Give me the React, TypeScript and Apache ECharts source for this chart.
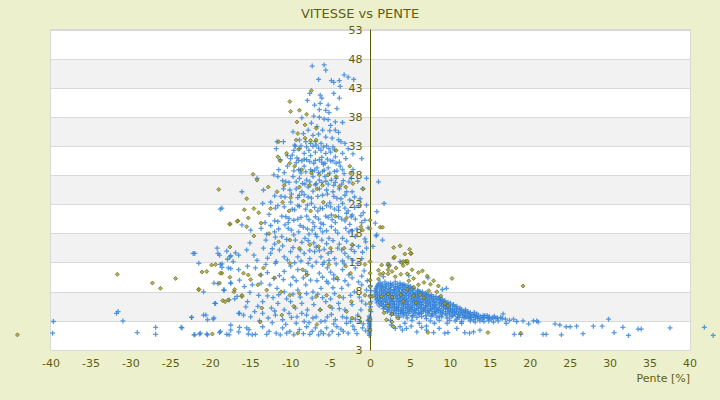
import React, { useEffect, useRef } from "react";
import * as echarts from "echarts";

type P = [number, number];

const titleText = "VITESSE vs PENTE";
const xAxisTitle = "Pente [%]";
const xMin = -40;
const xMax = 40;
const xStep = 5;
const yMin = -2;
const yMax = 53;
const yStep = 5;

// blue points, left of the axis (upper part)
const blueLeftTop: P[] = [
  [-7.3, 46.8], [-5.8, 47.0], [-5.6, 46.1], [-6.5, 44.5], [-4.9, 44.3], [-4.6, 44.0], [-3.9, 44.3], [-3.3, 45.3],
  [-2.8, 44.9], [-2.1, 44.5], [-3.8, 43.3], [-7.6, 42.1], [-6.3, 41.8], [-6.1, 41.3], [-4.6, 42.1], [-3.9, 41.3],
  [-6.3, 40.4], [-5.3, 40.1], [-7.0, 40.1], [-4.2, 39.5], [-6.4, 39.3], [-5.6, 39.2], [-5.2, 38.8], [-7.1, 38.2],
  [-6.4, 38.0], [-5.8, 37.7], [-5.3, 37.6], [-4.4, 37.2], [-3.5, 37.1], [-7.4, 37.0], [-6.7, 36.4], [-6.0, 35.8],
  [-5.1, 35.7], [-4.4, 35.8], [-7.8, 35.8], [-8.4, 35.2], [-7.2, 34.9], [-6.5, 35.1], [-5.6, 34.6], [-4.8, 34.4],
  [-4.0, 34.1], [-3.7, 33.8], [-11.7, 33.8], [-10.9, 33.8], [-9.5, 33.2], [-8.9, 34.1], [-8.1, 33.8], [-7.5, 33.5],
  [-6.8, 33.2], [-6.2, 33.5], [-5.5, 33.1], [-4.7, 32.9], [-3.2, 33.5], [-2.8, 32.6], [-11.8, 32.6], [-9.6, 32.3],
  [-8.9, 32.6], [-8.3, 31.8], [-7.7, 32.3], [-6.9, 32.0], [-6.2, 32.3], [-5.6, 31.8], [-5.0, 32.0], [-4.4, 31.2],
  [-3.5, 31.8], [-1.1, 30.9], [-11.3, 30.7], [-9.2, 31.0], [-8.6, 30.5], [-8.0, 30.7], [-7.1, 30.1], [-6.4, 30.7],
  [-5.7, 30.1], [-5.0, 30.5], [-4.3, 30.1], [-11.5, 29.0], [-10.4, 29.6], [-9.0, 29.0], [-8.3, 29.6], [-7.5, 29.0],
  [-6.7, 29.3], [-6.0, 28.7], [-5.3, 29.3], [-4.5, 28.7], [-3.5, 29.0], [-2.2, 29.0], [-12.1, 28.1], [-14.2, 27.5],
  [-9.7, 27.8], [-8.9, 27.5], [-8.0, 27.2], [-7.2, 27.8], [-6.4, 27.2], [-5.7, 27.8], [-4.9, 27.2], [-4.3, 27.5],
  [-2.4, 27.5], [-0.5, 27.5], [-13.4, 25.5], [-16.1, 25.2], [-10.9, 25.7], [-10.1, 25.5], [-9.3, 25.7], [-8.6, 25.2],
  [-7.8, 26.0], [-7.2, 25.3], [-6.4, 25.7], [-5.5, 25.5], [-4.7, 25.2], [-3.9, 25.7], [-3.0, 25.2], [-2.3, 25.2],
  [-1.0, 25.7], [-9.8, 31.5], [-9.3, 30.2], [-8.7, 28.4], [-8.2, 26.5], [-7.5, 31.4], [-7.0, 28.9], [-6.8, 26.6],
  [-6.9, 33.8], [-6.1, 31.1], [-5.9, 29.9], [-5.6, 27.0], [-4.6, 26.3], [-3.8, 29.6], [-3.4, 27.1], [-11.6, 27.8],
  [-10.4, 31.4], [-9.7, 35.5], [-8.6, 37.9], [-7.9, 40.9], [-5.0, 36.6], [-4.0, 35.4], [-3.1, 30.9], [-2.2, 31.7],
  [-1.6, 27.0], [-10.6, 26.9],
];

// extra blue points in the dense core of the left cloud
const blueLeftCore: P[] = [
  [-9.4, 33.0], [-8.7, 33.1], [-8.0, 32.9], [-7.2, 33.0], [-6.5, 32.7], [-5.9, 32.9], [-5.2, 32.6], [-4.5, 32.4],
  [-10.0, 30.9], [-9.0, 30.6], [-8.3, 30.8], [-7.6, 30.4], [-6.9, 30.6], [-6.1, 30.3], [-5.4, 30.8], [-4.7, 30.5], [-3.9, 30.3],
  [-10.8, 28.5], [-9.6, 28.8], [-8.8, 28.9], [-8.1, 28.6], [-7.3, 28.7], [-6.5, 28.5], [-5.8, 28.9], [-5.1, 28.4], [-4.2, 28.8], [-3.3, 28.3],
  [-11.0, 27.1], [-10.2, 26.8], [-9.3, 26.9], [-8.5, 26.6], [-7.6, 26.9], [-6.9, 26.4], [-6.1, 26.8], [-5.3, 26.5], [-4.4, 26.8], [-3.6, 26.5], [-2.7, 26.9],
  [-12.0, 24.5], [-10.7, 24.3], [-9.9, 24.8], [-9.1, 24.2], [-8.3, 24.7], [-7.4, 24.1], [-6.0, 24.6], [-4.6, 24.4], [-3.7, 24.0], [-2.0, 24.3],
  [-11.9, 22.4], [-10.8, 22.6], [-9.8, 22.2], [-8.9, 22.7], [-7.9, 22.9], [-7.0, 22.5], [-6.0, 22.3], [-5.0, 22.6], [-4.0, 22.0], [-3.2, 22.4], [-1.5, 22.8],
  [-11.6, 20.1], [-10.6, 20.9], [-9.6, 20.3], [-8.7, 20.8], [-7.7, 20.4], [-6.9, 20.9], [-6.2, 19.8], [-5.6, 21.0], [-4.8, 20.4], [-4.0, 20.9], [-3.2, 20.2], [-2.3, 21.2], [-0.7, 20.3],
  [-12.5, 19.4], [-11.5, 18.8], [-10.7, 19.5], [-9.9, 18.6], [-8.8, 19.4], [-7.9, 18.8], [-7.0, 19.2], [-6.3, 18.9], [-5.5, 18.5], [-4.9, 19.2], [-4.1, 18.1], [-3.1, 18.9], [-2.3, 18.5],
  [-13.0, 17.9], [-11.9, 17.4], [-10.5, 17.0], [-9.4, 16.9], [-8.6, 16.5], [-7.8, 16.8], [-6.9, 17.9], [-6.1, 16.9], [-5.5, 16.3], [-4.7, 16.8], [-3.9, 16.2], [-3.0, 16.7], [-2.2, 16.0],
  [-12.3, 15.4], [-11.0, 15.9], [-9.7, 15.6], [-8.8, 15.2], [-7.6, 15.1], [-6.8, 15.7], [-5.8, 15.3], [-4.9, 14.9], [-4.1, 15.5], [-3.2, 14.6], [-2.4, 15.3], [-1.0, 14.8],
  [-14.2, 13.4], [-12.9, 13.8], [-11.8, 13.2], [-10.4, 13.5], [-9.5, 13.0], [-8.7, 13.3], [-7.8, 12.9], [-6.8, 13.1], [-6.0, 12.7], [-5.2, 13.4], [-4.3, 12.8], [-3.5, 13.3], [-1.6, 12.9],
  [-13.7, 10.9], [-12.1, 10.3], [-10.9, 10.1], [-9.3, 9.9], [-8.4, 10.4], [-7.5, 10.0], [-6.0, 10.5], [-5.5, 9.8], [-4.6, 10.2], [-3.2, 9.9], [-2.3, 10.4], [-1.5, 9.7],
  [-15.1, 7.9], [-12.9, 7.3], [-11.5, 7.5], [-9.7, 7.6], [-8.0, 7.7], [-7.3, 6.9], [-6.6, 7.6], [-5.0, 6.8], [-3.4, 7.0], [-2.5, 7.4], [-1.1, 6.4],
  [-14.5, 4.6], [-12.0, 4.7], [-9.9, 3.6], [-8.0, 4.0], [-6.8, 3.7], [-4.9, 4.1], [-3.0, 3.5], [-1.4, 2.9], [-2.2, 2.1], [-4.6, 2.5], [-7.7, 2.7], [-12.3, 2.7],
  [-14.8, 0.6], [-10.5, 0.9], [-8.4, 0.8], [-6.5, 0.6], [-5.2, 0.6], [-3.7, 1.6], [-1.7, 0.8], [-0.6, 1.3],
];

// blue points, left of the axis (lower part)
const blueLeftLow: P[] = [
  [-18.8, 22.2], [-18.6, 22.4], [-13.5, 23.2], [-12.5, 23.4], [-11.6, 22.8], [-10.0, 23.4], [-9.1, 22.8], [-8.1, 22.2],
  [-7.4, 23.2], [-6.6, 21.9], [-5.5, 22.8], [-4.5, 22.2], [-3.5, 23.2], [-2.8, 21.9], [-2.0, 22.5], [-0.9, 21.6],
  [-12.7, 21.3], [-12.0, 20.2], [-11.1, 21.0], [-10.3, 19.9], [-9.1, 20.5], [-8.0, 21.0], [-7.2, 19.9], [-6.5, 20.5],
  [-5.9, 19.6], [-5.3, 20.8], [-4.4, 19.9], [-3.6, 20.5], [-2.6, 19.6], [-1.9, 20.5], [-1.1, 19.9], [-16.1, 19.5],
  [-15.0, 18.6], [-13.7, 18.9], [-13.1, 16.9], [-12.0, 18.3], [-11.1, 17.5], [-10.3, 18.9], [-9.6, 17.8], [-9.0, 18.3],
  [-8.2, 17.2], [-7.3, 18.6], [-6.7, 17.5], [-6.0, 18.3], [-5.2, 17.2], [-4.4, 18.6], [-3.5, 17.2], [-2.7, 18.3],
  [-1.9, 17.5], [-0.6, 16.6], [-22.2, 14.6], [-19.2, 15.5], [-18.9, 14.3], [-17.6, 14.0], [-16.5, 14.3], [-15.5, 15.2],
  [-15.1, 16.4], [-14.6, 14.3], [-13.4, 15.5], [-12.5, 14.6], [-11.4, 15.2], [-10.8, 14.0], [-10.0, 14.9], [-9.1, 14.0],
  [-8.3, 14.6], [-7.6, 13.7], [-7.0, 14.9], [-6.2, 14.0], [-5.3, 14.6], [-4.5, 13.7], [-3.6, 15.2], [-2.8, 14.0],
  [-2.0, 14.9], [-1.1, 13.7], [-0.5, 15.5], [-21.5, 12.9], [-18.8, 12.7], [-17.8, 12.1], [-16.5, 11.8], [-15.4, 12.4],
  [-14.4, 12.1], [-13.1, 12.7], [-11.9, 12.9], [-10.8, 11.5], [-10.0, 12.4], [-9.1, 11.8], [-8.1, 11.5], [-7.3, 12.4],
  [-6.4, 11.2], [-5.4, 12.1], [-4.6, 10.9], [-3.5, 11.8], [-2.7, 10.9], [-1.9, 12.1], [-1.1, 10.7], [-20.9, 8.0],
  [-19.6, 9.5], [-18.3, 8.3], [-17.5, 9.5], [-16.4, 10.0], [-15.8, 8.9], [-14.8, 9.2], [-13.7, 9.5], [-12.6, 9.2],
  [-11.7, 8.6], [-10.8, 8.0], [-10.0, 9.2], [-9.1, 8.3], [-8.1, 9.2], [-7.2, 8.0], [-6.2, 8.6], [-5.3, 9.5],
  [-4.5, 7.7], [-3.6, 8.6], [-2.8, 9.2], [-2.0, 8.0], [-1.1, 9.2], [-0.5, 8.3], [-19.5, 6.0], [-17.7, 6.6],
  [-16.7, 7.2], [-15.4, 6.3], [-14.1, 5.5], [-13.5, 6.3], [-12.4, 5.2], [-11.6, 6.0], [-10.8, 4.9], [-10.0, 6.3],
  [-9.4, 5.2], [-8.6, 6.0], [-7.9, 4.9], [-7.1, 5.8], [-6.3, 4.9], [-5.6, 6.3], [-4.8, 5.2], [-4.0, 6.0],
  [-3.2, 4.9], [-2.3, 5.8], [-1.2, 4.9], [-22.4, 3.6], [-20.6, 4.0], [-20.4, 3.2], [-19.6, 3.5], [-16.5, 4.3],
  [-15.9, 4.0], [-15.0, 3.7], [-13.5, 4.3], [-12.8, 3.5], [-11.9, 4.0], [-11.0, 3.2], [-10.2, 4.3], [-9.2, 3.7],
  [-8.3, 2.9], [-7.2, 3.5], [-6.2, 2.9], [-5.4, 3.7], [-4.4, 3.2], [-3.5, 3.7], [-2.5, 2.9], [-1.6, 4.0],
  [-23.6, 1.8], [-22.1, 0.6], [-21.3, 0.9], [-20.4, 0.6], [-18.8, 1.2], [-17.5, 2.3], [-17.7, 0.6], [-16.5, 1.1],
  [-15.5, 1.8], [-15.2, 1.5], [-14.4, 0.7], [-13.5, 2.0], [-12.7, 1.2], [-11.8, 0.9], [-11.0, 1.8], [-10.1, 1.2],
  [-9.3, 2.6], [-8.9, 1.5], [-8.0, 2.0], [-7.3, 1.2], [-6.9, 1.8], [-6.2, 1.2], [-5.5, 1.8], [-4.8, 1.2],
  [-4.2, 2.0], [-3.4, 1.2], [-3.0, 2.6], [-2.0, 1.5], [-1.0, 1.8], [-22.0, 14.6], [-19.1, 14.6], [-18.0, 15.0],
  [-17.9, 13.6], [-17.5, 14.2], [-16.9, 14.7], [-17.2, 13.2], [-18.6, 12.8], [-18.6, 12.2], [-17.5, 12.0],
  [-19.1, 9.4], [-17.5, 9.5], [-18.4, 8.3], [-17.0, 6.8], [-7.8, 24.3], [-6.6, 24.4], [-6.3, 22.4], [-5.4, 24.8],
  [-5.1, 23.3], [-4.9, 21.2], [-4.2, 24.1], [-4.0, 22.6], [-3.2, 24.6], [-3.0, 21.5], [-2.6, 23.8], [-2.4, 20.9],
  [-8.9, 24.6], [-9.5, 22.1], [-10.2, 20.6], [-11.2, 24.4], [-8.4, 19.1], [-7.7, 17.9], [-7.1, 16.4], [-6.4, 15.1],
  [-5.8, 13.1], [-5.0, 11.4], [-4.1, 10.1], [-3.3, 12.8], [-2.2, 13.4], [-1.5, 15.8], [-1.7, 18.8], [-0.8, 11.6],
  [-0.4, 9.9], [-1.4, 7.1], [-0.6, 5.9], [-1.9, 3.3], [-0.3, 3.1], [-0.9, 2.5], [-2.8, 0.9], [-4.0, 0.7],
  [-5.9, 0.8], [-7.6, 0.7], [-9.6, 0.6], [-11.3, 0.6], [-13.0, 0.7], [-6.7, 9.9], [-7.9, 11.0], [-9.7, 10.5],
  [-11.4, 10.8], [-12.9, 11.3], [-14.0, 7.4], [-12.2, 7.0], [-10.5, 6.8], [-8.8, 7.1], [-6.0, 7.0], [-4.7, 8.7],
  [-3.9, 5.1], [-5.7, 3.0], [-8.6, 4.3], [-10.6, 2.4], [-13.9, 3.0], [-15.6, 5.4], [-12.0, 16.2], [-13.2, 19.9],
  [-1.3, 24.0], [-0.5, 22.9], [-0.3, 19.0], [-0.7, 17.1], [-1.2, 21.1],
];

// blue points far on the left
const blueFarLeft: P[] = [
  [-39.7, 2.9], [-39.8, 0.9], [-31.8, 4.3], [-31.6, 4.6], [-31.0, 3.0], [-29.2, 1.0], [-26.9, 1.9], [-26.9, 0.7],
  [-23.7, 1.9], [-22.4, 3.6], [-22.0, 0.6], [-21.4, 0.75], [-20.9, 4.0], [-20.5, 0.75], [-19.7, 3.3], [-19.4, 6.0],
  [-18.9, 1.0], [-18.0, 0.7], [-17.5, 1.4], [-16.4, 4.3], [-16.4, 1.9], [-15.3, 0.75],
];

// blue points along the vertical axis
const blueAxis: P[] = [
  [-0.15, 0.5], [-0.15, 0.8], [-0.1, 1.1], [-0.15, 1.4], [-0.1, 1.7], [-0.15, 2.0], [-0.1, 2.3], [-0.15, 2.6],
  [-0.1, 2.9], [-0.15, 3.2], [-0.1, 3.5], [-0.15, 3.8], [0.05, 4.6], [0.0, 5.4], [0.05, 6.3], [0.0, 7.4],
  [0.05, 8.2], [0.0, 9.0],
];

// blue points right of the axis, above the dense cloud
const blueRightHigh: P[] = [
  [1.0, 26.9], [1.7, 23.2], [1.5, 16.9], [2.4, 12.6], [0.6, 19.8], [0.7, 17.6], [0.8, 21.8], [0.3, 15.8],
  [0.8, 17.8], [2.2, 12.6], [3.7, 13.2], [7.2, 10.4], [9.0, 8.4], [9.5, 8.6], [1.6, 10.6], [4.8, 10.8],
];

// blue dense cloud right of the axis
const blueCloud: P[] = [
  [1.2, 9.6], [1.8, 9.7], [2.5, 9.5], [3.1, 9.7], [3.7, 9.5], [4.2, 9.3],
  [0.9, 9.1], [1.4, 9.0], [2.0, 9.2], [2.6, 9.1], [3.2, 8.9], [3.8, 9.1], [4.4, 9.0], [5.0, 8.9],
  [0.7, 8.6], [1.2, 8.5], [1.7, 8.7], [2.3, 8.6], [2.9, 8.4], [3.5, 8.6], [4.0, 8.5], [4.6, 8.4], [5.2, 8.6], [5.9, 8.3],
  [0.6, 8.1], [1.1, 8.0], [1.6, 8.2], [2.2, 8.1], [2.7, 7.9], [3.3, 8.1], [3.9, 8.0], [4.4, 7.9], [5.0, 8.1], [5.6, 7.9],
  [6.2, 8.0], [6.9, 7.8],
  [0.6, 7.6], [1.1, 7.5], [1.7, 7.7], [2.2, 7.6], [2.8, 7.4], [3.3, 7.6], [3.9, 7.5], [4.5, 7.4], [5.0, 7.6], [5.6, 7.5],
  [6.1, 7.3], [6.7, 7.5], [7.3, 7.4], [7.9, 7.2],
  [0.6, 7.1], [1.2, 7.0], [1.7, 7.2], [2.3, 7.1], [2.8, 6.9], [3.4, 7.1], [4.0, 7.0], [4.5, 6.9], [5.1, 7.1], [5.7, 7.0],
  [6.2, 6.8], [6.8, 7.0], [7.4, 6.9], [7.9, 6.8], [8.5, 6.9], [9.0, 6.7],
  [0.7, 6.6], [1.2, 6.5], [1.8, 6.7], [2.4, 6.6], [2.9, 6.4], [3.5, 6.6], [4.1, 6.5], [4.6, 6.4], [5.2, 6.6], [5.7, 6.5],
  [6.3, 6.3], [6.9, 6.5], [7.4, 6.4], [8.0, 6.3], [8.6, 6.5], [9.1, 6.3], [9.7, 6.2],
  [0.8, 6.1], [1.4, 6.0], [1.9, 6.2], [2.5, 6.1], [3.0, 5.9], [3.6, 6.1], [4.2, 6.0], [4.7, 5.9], [5.3, 6.1], [5.9, 6.0],
  [6.4, 5.8], [7.0, 6.0], [7.5, 5.9], [8.1, 5.8], [8.7, 6.0], [9.2, 5.9], [9.8, 5.7], [10.4, 5.8],
  [1.1, 5.6], [1.6, 5.5], [2.2, 5.7], [2.7, 5.6], [3.3, 5.4], [3.9, 5.6], [4.4, 5.5], [5.0, 5.4], [5.5, 5.6], [6.1, 5.5],
  [6.7, 5.3], [7.2, 5.5], [7.8, 5.4], [8.3, 5.3], [8.9, 5.5], [9.5, 5.4], [10.0, 5.2], [10.6, 5.4], [11.2, 5.2],
  [1.6, 5.1], [2.1, 5.0], [2.7, 5.2], [3.2, 5.1], [3.8, 4.9], [4.4, 5.1], [4.9, 5.0], [5.5, 4.9], [6.0, 5.1], [6.6, 5.0],
  [7.2, 4.8], [7.7, 5.0], [8.3, 4.9], [8.8, 4.8], [9.4, 5.0], [10.0, 4.9], [10.5, 4.7], [11.1, 4.9], [11.7, 4.7], [12.2, 4.6],
  [2.1, 4.6], [2.6, 4.5], [3.2, 4.7], [3.8, 4.6], [4.3, 4.4], [4.9, 4.6], [5.4, 4.5], [6.0, 4.4], [6.6, 4.6], [7.1, 4.5],
  [7.7, 4.3], [8.2, 4.5], [8.8, 4.4], [9.4, 4.3], [9.9, 4.5], [10.5, 4.4], [11.0, 4.2], [11.6, 4.4], [12.2, 4.3], [12.7, 4.1],
  [13.3, 4.2],
  [2.6, 4.1], [3.2, 4.0], [3.8, 4.2], [4.5, 4.0], [5.3, 3.9], [6.1, 4.1], [6.9, 3.9], [7.8, 4.0], [8.6, 3.8], [9.5, 4.0],
  [10.3, 3.9], [10.9, 3.7], [11.5, 3.9], [12.1, 3.8], [12.6, 3.6], [13.2, 3.8], [13.8, 3.7], [14.3, 3.9], [14.9, 3.7], [15.5, 3.8],
  [3.6, 3.6], [4.6, 3.5], [5.8, 3.6], [7.0, 3.4], [8.3, 3.6], [9.6, 3.5], [10.8, 3.3], [11.7, 3.5], [12.3, 3.4], [12.9, 3.2],
  [13.4, 3.4], [14.0, 3.3], [14.6, 3.5], [15.1, 3.3], [15.7, 3.4], [16.3, 3.6], [16.9, 3.3],
  [5.2, 3.1], [7.5, 3.0], [9.9, 3.1], [11.4, 2.9], [12.5, 3.0], [13.1, 2.8], [13.7, 3.0], [14.2, 2.9], [14.8, 3.0], [15.4, 2.8],
  [16.0, 3.0],
];

// second layer of blue points filling the dense cloud
const blueCloudFill: P[] = [
  [1.0, 9.35], [1.5, 9.3], [2.2, 9.4], [2.8, 9.3], [3.4, 9.35], [4.0, 9.2], [4.7, 9.1],
  [0.8, 8.85], [1.3, 8.8], [1.9, 8.9], [2.5, 8.8], [3.1, 8.85], [3.6, 8.8], [4.2, 8.75], [4.8, 8.7], [5.4, 8.6],
  [0.7, 8.35], [1.4, 8.3], [1.9, 8.4], [2.5, 8.35], [3.0, 8.3], [3.6, 8.35], [4.2, 8.3], [4.8, 8.25], [5.3, 8.35], [6.0, 8.1], [6.5, 8.0],
  [0.8, 7.85], [1.4, 7.8], [1.9, 7.9], [2.5, 7.85], [3.0, 7.8], [3.6, 7.85], [4.1, 7.8], [4.7, 7.75], [5.3, 7.8], [5.9, 7.7],
  [6.4, 7.75], [7.0, 7.6], [7.6, 7.5],
  [0.8, 7.35], [1.4, 7.3], [2.0, 7.4], [2.5, 7.35], [3.1, 7.3], [3.7, 7.35], [4.2, 7.25], [4.8, 7.3], [5.4, 7.35], [5.9, 7.2],
  [6.5, 7.25], [7.1, 7.2], [7.6, 7.1], [8.2, 7.15], [8.7, 7.0],
  [0.9, 6.85], [1.5, 6.8], [2.0, 6.9], [2.6, 6.85], [3.2, 6.8], [3.7, 6.85], [4.3, 6.75], [4.8, 6.8], [5.4, 6.85], [6.0, 6.7],
  [6.5, 6.75], [7.1, 6.7], [7.7, 6.6], [8.2, 6.7], [8.8, 6.6], [9.3, 6.5],
  [1.0, 6.35], [1.6, 6.3], [2.1, 6.4], [2.7, 6.35], [3.3, 6.3], [3.8, 6.35], [4.4, 6.25], [5.0, 6.3], [5.5, 6.35], [6.1, 6.2],
  [6.6, 6.25], [7.2, 6.2], [7.8, 6.1], [8.3, 6.2], [8.9, 6.1], [9.5, 6.0], [10.0, 6.05],
  [1.3, 5.85], [1.9, 5.8], [2.4, 5.9], [3.0, 5.85], [3.5, 5.75], [4.1, 5.85], [4.7, 5.8], [5.2, 5.7], [5.8, 5.8], [6.4, 5.75],
  [6.9, 5.65], [7.5, 5.7], [8.0, 5.6], [8.6, 5.7], [9.2, 5.6], [9.7, 5.5], [10.3, 5.55], [10.8, 5.5],
  [1.8, 5.35], [2.4, 5.3], [3.0, 5.4], [3.5, 5.3], [4.1, 5.25], [4.7, 5.35], [5.2, 5.3], [5.8, 5.2], [6.3, 5.3], [6.9, 5.25],
  [7.5, 5.15], [8.0, 5.2], [8.6, 5.1], [9.1, 5.2], [9.7, 5.1], [10.3, 5.0], [10.8, 5.05], [11.4, 4.95], [11.9, 4.9],
  [2.3, 4.85], [2.9, 4.8], [3.5, 4.9], [4.0, 4.8], [4.6, 4.75], [5.2, 4.85], [5.7, 4.8], [6.3, 4.7], [6.9, 4.8], [7.4, 4.7],
  [8.0, 4.65], [8.5, 4.7], [9.1, 4.6], [9.7, 4.65], [10.2, 4.55], [10.8, 4.6], [11.3, 4.5], [11.9, 4.5], [12.5, 4.4], [13.0, 4.45],
  [2.9, 4.35], [3.5, 4.3], [4.1, 4.4], [4.8, 4.3], [5.6, 4.25], [6.4, 4.3], [7.3, 4.2], [8.1, 4.25], [9.0, 4.15], [9.9, 4.2],
  [10.6, 4.1], [11.2, 4.15], [11.8, 4.05], [12.4, 4.0], [12.9, 3.95], [13.5, 4.0], [14.1, 3.9], [14.6, 3.95],
  [4.1, 3.85], [5.2, 3.8], [6.4, 3.75], [7.6, 3.8], [8.9, 3.7], [10.1, 3.75], [11.1, 3.6], [11.9, 3.65], [12.5, 3.55], [13.1, 3.6],
  [13.6, 3.5], [14.2, 3.55], [14.8, 3.45], [15.3, 3.55], [15.9, 3.5], [16.5, 3.4],
];

// blue points below the cloud and the long tail to the right
const blueTail: P[] = [
  [4.0, 1.4], [4.5, 1.7], [5.8, 1.1], [6.4, 1.9], [7.0, 1.4], [7.9, 1.0], [8.6, 1.7], [9.3, 0.9], [9.7, 1.0],
  [10.8, 1.7], [11.8, 1.0], [12.4, 0.9], [12.9, 1.1], [13.7, 1.4], [3.7, 2.0], [4.3, 2.6], [5.1, 2.1], [6.1, 2.6],
  [7.0, 2.1], [8.0, 2.6], [8.6, 3.1], [9.6, 2.6], [10.6, 3.0], [11.4, 2.6], [2.6, 2.3], [2.5, 3.1], [3.1, 1.7],
  [29.8, 3.3], [27.9, 2.1], [29.0, 2.1], [30.5, 1.0], [31.6, 1.9], [32.3, 0.5], [33.5, 1.6], [33.9, 1.6],
  [37.5, 1.8], [41.8, 1.9], [42.9, 0.5], [26.6, 0.8], [25.8, 2.1], [24.5, 2.0], [25.0, 2.0], [23.9, 0.6],
  [23.7, 2.3], [23.1, 2.5], [21.6, 0.7], [22.0, 0.7], [20.8, 3.0], [20.4, 3.0], [19.8, 2.5], [19.1, 3.0],
  [18.8, 0.7], [18.0, 0.7], [17.9, 3.3], [16.6, 4.2], [17.0, 2.6], [18.3, 2.9], [21.0, 2.8], [17.4, 3.1],
];

// olive points, left of the axis
const oliveLeft: P[] = [
  [-10.1, 40.7], [-10.0, 39.0], [-8.9, 39.2], [-7.4, 42.6], [-8.0, 38.5], [-9.2, 37.2], [-8.2, 36.7], [-6.8, 36.1],
  [-9.1, 35.2], [-8.2, 34.4], [-7.5, 34.0], [-11.5, 33.8], [-9.3, 34.1], [-6.8, 34.1], [-9.0, 32.5], [-4.3, 32.3],
  [-11.6, 31.2], [-10.5, 31.8], [-11.3, 30.5], [-10.1, 30.1], [-9.5, 29.6], [-8.6, 29.0], [-7.4, 28.4], [-6.4, 28.1],
  [-5.3, 28.1], [-4.3, 27.8], [-2.6, 29.6], [-2.5, 28.4], [-14.7, 28.2], [-14.2, 27.2], [-19.0, 25.6], [-12.8, 26.0],
  [-11.7, 25.2], [-10.8, 26.3], [-8.9, 26.0], [-7.6, 26.3], [-6.7, 25.7], [-6.0, 26.3], [-3.9, 26.1], [-3.1, 26.0],
  [-0.9, 25.7], [-2.2, 26.6], [-15.5, 24.0], [-15.8, 22.1], [-14.6, 22.3], [-14.0, 21.6], [-15.3, 20.7], [-15.5, 19.2],
  [-17.6, 19.6], [-16.6, 20.2], [-13.7, 19.8], [-12.5, 22.3], [-11.0, 23.4], [-10.2, 21.9], [-10.0, 24.2], [-8.4, 23.6],
  [-7.5, 21.9], [-5.9, 23.4], [-4.4, 21.0], [-3.0, 20.7], [-1.2, 19.2], [-1.0, 18.6], [-14.6, 17.6], [-12.7, 18.0],
  [-11.5, 16.6], [-10.1, 16.9], [-8.9, 15.5], [-7.6, 16.1], [-6.5, 15.8], [-5.0, 15.5], [-3.3, 15.5], [-2.3, 16.1],
  [-19.4, 12.7], [-20.5, 11.5], [-18.6, 11.2], [-15.9, 11.2], [-15.3, 10.9], [-13.8, 10.9], [-13.4, 12.1], [-12.0, 10.4],
  [-10.1, 12.9], [-8.5, 11.8], [-8.0, 10.9], [-5.2, 12.7], [-4.2, 10.4], [-3.1, 12.4], [-2.5, 11.2], [-0.7, 12.7],
  [-21.5, 8.4], [-18.9, 9.5], [-17.1, 8.0], [-16.1, 7.2], [-15.0, 10.1], [-14.1, 9.2], [-13.0, 8.3], [-11.2, 8.0],
  [-10.1, 7.4], [-8.9, 7.7], [-6.8, 7.2], [-5.5, 7.4], [-3.9, 7.2], [-2.4, 6.3], [-0.7, 7.4], [-18.5, 6.5],
  [-17.8, 6.6], [-16.1, 7.4], [-13.6, 5.2], [-11.1, 4.0], [-9.6, 5.5], [-6.3, 4.9], [-5.1, 5.5], [-3.0, 4.6],
  [-2.3, 3.5], [-13.8, 2.8], [-9.1, 0.9], [-6.7, 2.4], [-17.6, 19.7], [-16.7, 20.1], [-31.7, 11.0], [-27.3, 9.5],
  [-26.3, 8.6], [-24.4, 10.3], [-21.1, 11.4], [-19.9, 12.6], [-21.5, 8.4], [-18.8, 11.2], [-17.6, 10.5], [-17.0, 8.4],
  [-18.2, 6.3], [-17.6, 15.7], [-44.2, 0.6], [-19.8, 0.75],
];

// olive points along the vertical axis
const oliveAxis: P[] = [
  [-0.06, 20.3], [-0.06, 18.9], [-0.06, 13.2], [-0.06, 11.2], [-0.06, 10.0], [-0.06, 8.9], [-0.06, 7.2],
  [-0.06, 6.0], [-0.06, 4.9], [-0.06, 3.2], [-0.06, 1.4],
];

// olive points, right of the axis
const oliveRight: P[] = [
  [1.2, 19.1], [1.5, 19.1], [4.3, 14.5], [5.1, 14.6], [2.9, 13.8], [3.0, 14.0], [3.9, 13.0], [4.4, 13.2], [4.6, 12.9],
  [4.1, 12.5], [1.4, 12.6], [2.3, 12.4], [2.2, 11.8], [1.6, 11.2], [1.0, 11.7], [1.2, 11.0], [2.2, 11.1], [2.7, 11.5],
  [3.2, 12.1], [3.8, 11.0], [4.6, 11.1], [5.2, 11.8], [5.4, 10.3], [4.8, 9.9], [6.0, 11.3], [6.5, 11.6], [7.1, 10.7],
  [6.7, 9.6], [6.0, 9.2], [5.4, 8.8], [7.5, 9.3], [7.9, 9.9], [8.5, 9.0], [8.3, 8.0], [7.3, 8.2], [6.2, 7.5],
  [5.4, 7.3], [4.6, 8.4], [3.8, 7.5], [4.1, 6.4], [2.7, 7.1], [2.2, 7.6], [2.2, 5.6], [1.7, 4.4], [2.7, 4.2],
  [3.4, 3.5], [9.3, 6.0], [9.7, 5.6], [6.7, 7.0], [10.2, 10.3], [0.2, 7.2], [2.9, 15.6], [3.7, 15.9], [4.9, 15.3],
  [5.0, 14.6], [4.1, 13.2], [4.6, 13.3], [2.2, 12.8], [19.1, 9.0], [18.8, 0.9], [14.7, 1.0], [7.2, 1.0], [2.9, 2.0],
  [2.7, 2.8], [2.0, 3.2], [1.4, 7.2], [1.0, 10.2], [3.1, 10.6], [5.7, 6.1], [8.8, 7.3],
];

const blueSeries: P[] = [
  ...blueLeftTop, ...blueLeftCore, ...blueLeftLow, ...blueFarLeft, ...blueAxis, ...blueRightHigh,
  ...blueCloud, ...blueCloudFill, ...blueTail,
];
const oliveSeries: P[] = [...oliveLeft, ...oliveAxis, ...oliveRight];

const OLIVE = "#5f5f10";
const FONT = "DejaVu Sans";
const W = 720;
const H = 400;
const GRID = { left: 51, right: 30, top: 30, bottom: 50 };

export default function App() {
  const ref = useRef<HTMLDivElement>(null);
  useEffect(() => {
    if (!ref.current) return;
    const chart = echarts.init(ref.current, undefined, { renderer: "svg" });
    const plotW = W - GRID.left - GRID.right;
    // the value axis is drawn at x = 0, with its labels beside it
    const yAxisOffset = -((0 - xMin) / (xMax - xMin)) * plotW;
    chart.setOption({
      animation: false,
      backgroundColor: "#ecf0cd",
      textStyle: { fontFamily: FONT },
      title: {
        text: titleText,
        left: "center",
        top: 2,
        textStyle: { color: OLIVE, fontSize: 13, fontWeight: "normal", fontFamily: FONT },
      },
      grid: {
        ...GRID,
        show: true,
        backgroundColor: "#ffffff",
        borderColor: "#d9d9d9",
        borderWidth: 2,
      },
      xAxis: {
        type: "value",
        min: xMin,
        max: xMax,
        interval: xStep,
        axisLine: { show: false, onZero: false },
        axisTick: { show: false },
        splitLine: { show: false },
        axisLabel: { color: OLIVE, fontSize: 11, fontFamily: FONT, margin: 8 },
      },
      yAxis: {
        type: "value",
        min: yMin,
        max: yMax,
        interval: yStep,
        position: "left",
        offset: yAxisOffset,
        axisLine: { show: true, onZero: false, lineStyle: { color: "#5a5a00", width: 1 } },
        axisTick: { show: false },
        splitLine: { show: true, lineStyle: { color: "#d9d9d9", width: 1 } },
        splitArea: { show: true, areaStyle: { color: ["#ffffff", "#f2f2f2"] } },
        axisLabel: {
          color: OLIVE,
          fontSize: 11,
          fontFamily: FONT,
          margin: 8,
          formatter: (v: number) => (v === yMin ? "3" : String(v)),
        },
      },
      graphic: [
        {
          type: "text",
          right: 30,
          top: 373,
          style: { text: xAxisTitle, fill: OLIVE, fontSize: 11, fontFamily: FONT },
        },
      ],
      series: [
        {
          name: "Vitesse",
          type: "scatter",
          data: blueSeries,
          clip: false,
          symbol: "path://M1.85,0H3.15V1.85H5V3.15H3.15V5H1.85V3.15H0V1.85H1.85Z",
          symbolSize: 5,
          itemStyle: { color: "#2f80d8" },
        },
        {
          name: "Vitesse 2",
          type: "scatter",
          data: oliveSeries,
          clip: false,
          symbol: "diamond",
          symbolSize: 4,
          itemStyle: { color: "#a4a23a", borderColor: "#595900", borderWidth: 0.8 },
        },
      ],
    });
    return () => chart.dispose();
  }, []);
  return <div ref={ref} style={{ position: "fixed", left: 0, top: 0, width: W, height: H }} />;
}
